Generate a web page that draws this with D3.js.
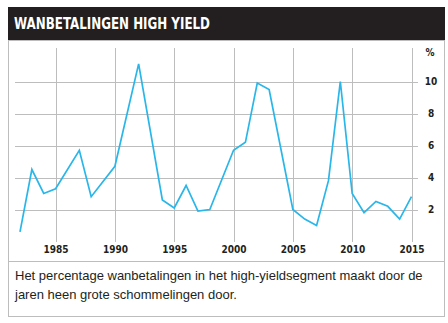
<!DOCTYPE html>
<html>
<head>
<meta charset="utf-8">
<script src="https://cdn.jsdelivr.net/npm/d3@7"></script>
<style>
  html, body { margin: 0; padding: 0; background: #fff; }
  svg { display: block; }
</style>
</head>
<body>
<svg id="chart"></svg>
<script>
// Wanbetalingen high yield, jaarlijks (%)
const years = [1982, 1983, 1984, 1985, 1987, 1988, 1990, 1992, 1994, 1995, 1996, 1997, 1998,
  2000, 2001, 2002, 2003, 2005, 2006, 2007, 2008, 2009, 2010, 2011, 2012, 2013, 2014, 2015];
const defaultRate = [0.6, 4.5, 3.0, 3.3, 5.7, 2.8, 4.7, 11.1, 2.6, 2.1, 3.5, 1.9, 2.0,
  5.7, 6.2, 9.9, 9.5, 2.0, 1.4, 1.0, 3.8, 10.0, 3.0, 1.8, 2.5, 2.2, 1.4, 2.8];
const xTicks = [1985, 1990, 1995, 2000, 2005, 2010, 2015];
const yTicks = [2, 4, 6, 8, 10];
const title = "WANBETALINGEN HIGH YIELD";
const caption = [
  "Het percentage wanbetalingen in het high-yieldsegment maakt door de",
  "jaren heen grote schommelingen door."
];

const w = 448;
const h = 323;
const dark = "#231f20";
const grid = "#bdbdbd";
const condensed = "'Liberation Sans Narrow', 'DejaVu Sans Condensed', 'Arial Narrow', sans-serif";

const svg = d3.select("#chart")
    .attr("width", w)
    .attr("height", h);

const data = years.map((y, i) => ({ year: y, value: defaultRate[i] }));

const xScale = d3.scaleLinear()
    .domain([1982, 2015])
    .range([20, 411.5]);

const yScale = d3.scaleLinear()
    .domain([0, 12])
    .range([241.5, 49.5]);

// outer frame
svg.append("rect")
    .attr("x", 8.5).attr("y", 40.5)
    .attr("width", 436).attr("height", 276)
    .attr("fill", "none")
    .attr("stroke", grid);

svg.append("line")
    .attr("x1", 8.5).attr("x2", 444.5)
    .attr("y1", 261.5).attr("y2", 261.5)
    .attr("stroke", grid);

// title bar
svg.append("rect")
    .attr("x", 8).attr("y", 7)
    .attr("width", 437).attr("height", 33)
    .attr("fill", dark);

svg.append("text")
    .attr("x", 14)
    .attr("y", 29.3)
    .attr("fill", "#fff")
    .attr("font-family", condensed)
    .attr("font-weight", 700)
    .attr("font-size", 15.5)
    .attr("textLength", 196)
    .attr("lengthAdjust", "spacingAndGlyphs")
    .text(title);

// grid
svg.append("g")
    .selectAll("line")
    .data(xTicks)
    .join("line")
    .attr("x1", d => Math.round(xScale(d)) + 0.5)
    .attr("x2", d => Math.round(xScale(d)) + 0.5)
    .attr("y1", 48)
    .attr("y2", 242)
    .attr("stroke", grid);

svg.append("g")
    .selectAll("line")
    .data(yTicks)
    .join("line")
    .attr("x1", 15)
    .attr("x2", 418)
    .attr("y1", d => Math.round(yScale(d)) + 0.5)
    .attr("y2", d => Math.round(yScale(d)) + 0.5)
    .attr("stroke", grid);

// axes labels
const xAxis = d3.axisBottom(xScale)
    .tickValues(xTicks)
    .tickFormat(d3.format("d"))
    .tickSize(0)
    .tickPadding(0);

const gx = svg.append("g")
    .attr("transform", "translate(0,246)")
    .call(xAxis);
gx.select(".domain").remove();
gx.selectAll("text")
    .attr("dy", "0.71em")
    .attr("fill", dark)
    .attr("font-family", condensed)
    .attr("font-weight", 700)
    .attr("font-size", 10);

const yAxis = d3.axisRight(yScale)
    .tickValues(yTicks)
    .tickSize(0)
    .tickPadding(0);

const gy = svg.append("g")
    .attr("transform", "translate(431,0)")
    .call(yAxis);
gy.select(".domain").remove();
gy.selectAll("text")
    .attr("text-anchor", "middle")
    .attr("fill", dark)
    .attr("font-family", condensed)
    .attr("font-weight", 700)
    .attr("font-size", 10);

svg.append("text")
    .attr("x", 430)
    .attr("y", 55.5)
    .attr("text-anchor", "middle")
    .attr("fill", dark)
    .attr("font-family", condensed)
    .attr("font-weight", 700)
    .attr("font-size", 10)
    .text("%");

// line
const line = d3.line()
    .x(d => xScale(d.year))
    .y(d => yScale(d.value));

svg.append("path")
    .datum(data)
    .attr("d", line)
    .attr("fill", "none")
    .attr("stroke", "#29b6e9")
    .attr("stroke-width", 1.7)
    .attr("stroke-linejoin", "miter");

// caption
svg.append("g")
    .selectAll("text")
    .data(caption)
    .join("text")
    .attr("x", 15)
    .attr("y", (d, i) => 279.5 + i * 19)
    .attr("fill", dark)
    .attr("font-family", "'Liberation Sans', Arial, sans-serif")
    .attr("font-size", 13)
    .text(d => d);
</script>
</body>
</html>
